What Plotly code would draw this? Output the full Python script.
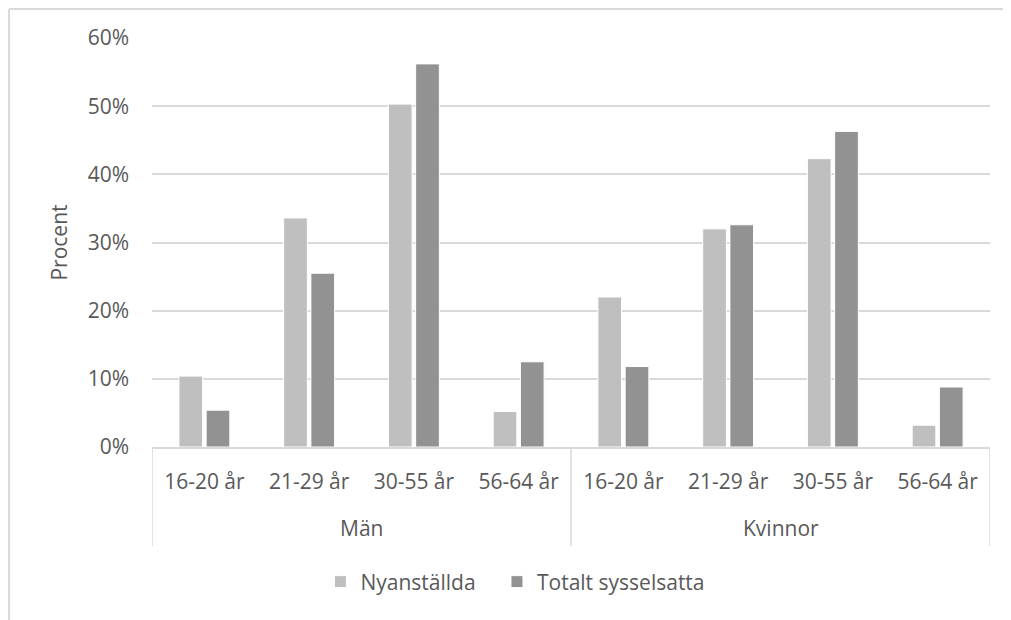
import plotly.graph_objects as go

groups = ["Män", "Kvinnor"]
ages = ["16-20 år", "21-29 år", "30-55 år", "56-64 år"]

nyanstallda = [10.4, 33.6, 50.3, 5.2, 22.0, 32.0, 42.3, 3.2]
totalt = [5.4, 25.5, 56.2, 12.5, 11.8, 32.6, 46.3, 8.8]

font = "Open Sans"
txt = "#595959"
line = "#D9D9D9"

n = len(ages)
xpos = list(range(len(groups) * n))
xlabels = ages * len(groups)

data = [
    go.Bar(x=xpos, y=[v / 100 for v in nyanstallda], name="Nyanställda" + "\u00a0" * 3,
           marker=dict(color="#BFBFBF", line=dict(color="white", width=1))),
    go.Bar(x=xpos, y=[v / 100 for v in totalt], name="Totalt sysselsatta",
           marker=dict(color="#929292", line=dict(color="white", width=1))),
]

# group labels under the age labels, dividers between the groups
annotations = [dict(x=i * n + (n - 1) / 2, y=-0.198, xref="x", yref="paper", text=g,
                    showarrow=False, yanchor="middle", font=dict(size=21, color=txt))
               for i, g in enumerate(groups)]
shapes = [dict(type="line", xref="x", yref="paper", x0=i * n - 0.5, x1=i * n - 0.5,
               y0=0, y1=-0.242, line=dict(color=line, width=1.5))
          for i in range(len(groups) + 1)]
# chart area border (top and left edges only are visible)
shapes.append(dict(type="line", xref="paper", yref="paper",
                   x0=-0.1706, x1=1.1, y0=1.0709, y1=1.0709,
                   line=dict(color=line, width=2), layer="below"))
shapes.append(dict(type="line", xref="paper", yref="paper",
                   x0=-0.1706, x1=-0.1706, y0=-0.5, y1=1.0709,
                   line=dict(color=line, width=2), layer="below"))

# page has an 8px body margin, so margins are shifted by 8
layout = go.Layout(
    width=1011, height=620,
    margin=dict(l=144, r=29, t=30, b=181),
    paper_bgcolor="white", plot_bgcolor="white",
    font=dict(family=font, size=21, color=txt),
    barmode="group", bargap=0.48, bargroupgap=0.13,
    xaxis=dict(range=[-0.5, len(xpos) - 0.5], tickvals=xpos, ticktext=xlabels,
               showgrid=False, zeroline=False, showline=True, linecolor=line, linewidth=1.5,
               ticklabelstandoff=15, tickfont=dict(size=21, color=txt)),
    yaxis=dict(range=[0, 0.6], dtick=0.1, tickformat=".0%", showgrid=True,
               gridcolor=line, gridwidth=1.5, zeroline=False, showline=False,
               ticklabelstandoff=22, tickfont=dict(size=21, color=txt),
               title=dict(text="Procent", standoff=14, font=dict(size=21, color=txt))),
    legend=dict(orientation="h", x=0.201, xanchor="left", y=-0.33, yanchor="middle",
                font=dict(size=21, color=txt)),
    annotations=annotations,
    shapes=shapes,
)

fig = go.Figure(data=data, layout=layout)
fig.write_html("out.html")
